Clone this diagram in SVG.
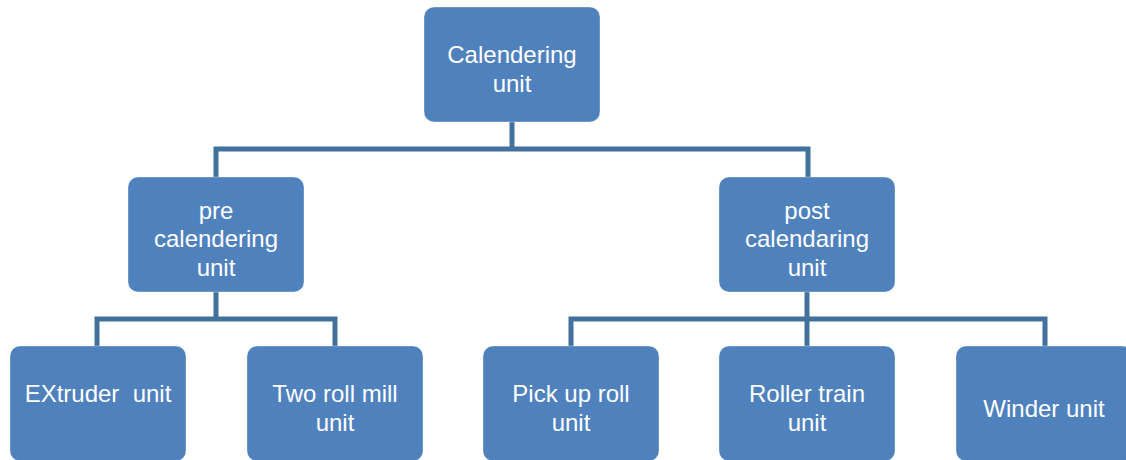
<svg xmlns="http://www.w3.org/2000/svg" width="1126" height="460" viewBox="0 0 1126 460">
<style>
.box{fill:#4F81BD;stroke:#ffffff;stroke-opacity:0.35;stroke-width:1}
.lbl{font-family:"Liberation Sans",Arial,sans-serif;font-size:24px;fill:#ffffff;text-anchor:middle}
.conn{fill:none;stroke:#41719C;stroke-width:5;stroke-linejoin:miter;stroke-linecap:butt}
</style>
<rect width="1126" height="460" fill="#ffffff"/>
<g id="connectors">
<path class="conn" d="M512,122 V149 M216,177 V149 H808 V177"/>
<path class="conn" d="M216,292 V319 M97,346 V319 H335 V346"/>
<path class="conn" d="M807,292 V346 M571,346 V319 H1045 V346"/>
</g>
<g id="calendering">
<rect class="box" x="424" y="7" width="176" height="115" rx="10"/>
<text class="lbl" x="512" y="63">Calendering</text>
<text class="lbl" x="512" y="92">unit</text>
</g>
<g id="pre">
<rect class="box" x="128" y="177" width="176" height="115" rx="10"/>
<text class="lbl" x="216" y="219">pre</text>
<text class="lbl" x="216" y="247">calendering</text>
<text class="lbl" x="216" y="276">unit</text>
</g>
<g id="post">
<rect class="box" x="719" y="177" width="176" height="115" rx="10"/>
<text class="lbl" x="807" y="219">post</text>
<text class="lbl" x="807" y="247">calendaring</text>
<text class="lbl" x="807" y="276">unit</text>
</g>
<g id="extruder">
<rect class="box" x="10" y="346" width="176" height="115" rx="10"/>
<text class="lbl" x="98" y="402" xml:space="preserve">EXtruder  unit</text>
</g>
<g id="tworoll">
<rect class="box" x="247" y="346" width="176" height="115" rx="10"/>
<text class="lbl" x="335" y="402">Two roll mill</text>
<text class="lbl" x="335" y="431">unit</text>
</g>
<g id="pickup">
<rect class="box" x="483" y="346" width="176" height="115" rx="10"/>
<text class="lbl" x="571" y="402">Pick up roll</text>
<text class="lbl" x="571" y="431">unit</text>
</g>
<g id="rollertrain">
<rect class="box" x="719" y="346" width="176" height="115" rx="10"/>
<text class="lbl" x="807" y="402">Roller train</text>
<text class="lbl" x="807" y="431">unit</text>
</g>
<g id="winder">
<rect class="box" x="956" y="346" width="176" height="115" rx="10"/>
<text class="lbl" x="1044" y="417">Winder unit</text>
</g>
</svg>
